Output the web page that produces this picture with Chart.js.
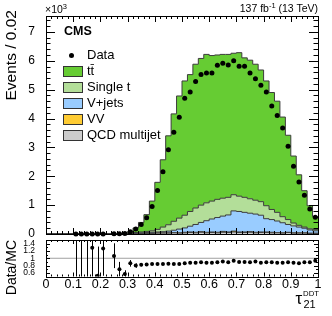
<!DOCTYPE html>
<html>
<head>
<meta charset="utf-8">
<script src="https://cdn.jsdelivr.net/npm/chart.js@4.4.0/dist/chart.umd.min.js"></script>
<style>
  body { margin: 0; background: #fff; }
  #wrap { position: relative; width: 332px; height: 316px; overflow: hidden; font-family: "Liberation Sans", Arial, sans-serif; color: #000; }
  canvas { position: absolute; left: 0; }
  #main { top: 0; }
  #ratio { top: 230px; }
  .lbl { position: absolute; white-space: nowrap; line-height: 1; }
  .leg { position: absolute; left: 87px; font-size: 13px; line-height: 1; white-space: nowrap; }
  .box { position: absolute; left: 63px; width: 20px; height: 11px; box-sizing: border-box; border: 1px solid #333; }
  .rot { position: absolute; width: 200px; height: 18px; line-height: 18px; text-align: right; transform: rotate(-90deg); white-space: nowrap; }
</style>
</head>
<body>
<div id="wrap">
  <canvas id="main" width="332" height="250"></canvas>
  <canvas id="ratio" width="332" height="86"></canvas>

  <div class="rot" style="left:-89px; top:101px; font-size:15.5px;">Events / 0.02</div>
  <div class="rot" style="left:-89px; top:331px; font-size:14px;">Data/MC</div>

  <div class="lbl" style="left:45px; top:4.3px; font-size:10.5px;">×10<span style="position:relative; top:-4px; font-size:7.5px;">3</span></div>
  <div class="lbl" style="right:14px; top:2.9px; font-size:10.5px;">137 fb<span style="position:relative; top:-3.5px; font-size:7.5px;">-1</span> (13 TeV)</div>
  <div class="lbl" style="left:64px; top:25.4px; font-size:12.5px; font-weight:bold;">CMS</div>

  <div style="position:absolute; left:69.2px; top:52.5px; width:5px; height:5px; border-radius:50%; background:#000;"></div>
  <div class="leg" style="top:48px;">Data</div>
  <div class="box" style="top:65.5px; background:#66cc33;"></div>
  <div class="leg" style="top:64px;">tt̄</div>
  <div class="box" style="top:81.6px; background:#b3de99;"></div>
  <div class="leg" style="top:80.1px;">Single t</div>
  <div class="box" style="top:97.7px; background:#99ccff;"></div>
  <div class="leg" style="top:96.2px;">V+jets</div>
  <div class="box" style="top:113.7px; background:#ffcc33;"></div>
  <div class="leg" style="top:112.2px;">VV</div>
  <div class="box" style="top:129.8px; background:#cccccc;"></div>
  <div class="leg" style="top:128.3px;">QCD multijet</div>

  <div class="lbl" style="left:295.5px; top:289.6px; font-size:17px;">τ</div>
  <div class="lbl" style="left:303px; top:290px; font-size:7.8px;">DDT</div>
  <div class="lbl" style="left:303.5px; top:299px; font-size:11px;">21</div>
</div>

<script>
// bin edges of tau21 DDT (0.02 wide bins)
const binEdges = [0, 0.02, 0.04, 0.06, 0.08, 0.1, 0.12, 0.14, 0.16, 0.18,
  0.2, 0.22, 0.24, 0.26, 0.28, 0.3, 0.32, 0.34, 0.36, 0.38,
  0.4, 0.42, 0.44, 0.46, 0.48, 0.5, 0.52, 0.54, 0.56, 0.58,
  0.6, 0.62, 0.64, 0.66, 0.68, 0.7, 0.72, 0.74, 0.76, 0.78,
  0.8, 0.82, 0.84, 0.86, 0.88, 0.9, 0.92, 0.94, 0.96, 0.98, 1.0];

// events per bin, in units of 10^3
const qcd = [0, 0, 0, 0, 0, 0, 0, 0, 0, 0, 0, 0, 0, 0.002, 0.003,
  0.01, 0.01, 0.02, 0.02, 0.02, 0.03, 0.03, 0.03, 0.04, 0.03,
  0.04, 0.05, 0.04, 0.06, 0.04, 0.05, 0.04, 0.06, 0.05, 0.07,
  0.05, 0.05, 0.06, 0.04, 0.05, 0.05, 0.04, 0.04, 0.03, 0.05,
  0.03, 0.03, 0.03, 0.02, 0.02];
const vv = [0, 0, 0, 0, 0, 0, 0, 0, 0, 0, 0, 0, 0, 0, 0,
  0.005, 0.005, 0.005, 0.01, 0.01, 0.01, 0.01, 0.01, 0.01, 0.01,
  0.02, 0.02, 0.02, 0.02, 0.02, 0.02, 0.02, 0.03, 0.02, 0.03,
  0.02, 0.02, 0.02, 0.02, 0.02, 0.02, 0.02, 0.01, 0.01, 0.01,
  0.01, 0.01, 0.01, 0.01, 0.01];
const vjets = [0, 0, 0, 0, 0, 0, 0, 0, 0, 0, 0, 0, 0, 0, 0.002,
  0.005, 0.015, 0.015, 0.02, 0.03, 0.03, 0.04, 0.06, 0.08, 0.13,
  0.15, 0.2, 0.27, 0.32, 0.4, 0.45, 0.51, 0.53, 0.59, 0.7,
  0.71, 0.68, 0.64, 0.63, 0.58, 0.46, 0.44, 0.4, 0.35, 0.27,
  0.24, 0.2, 0.16, 0.11, 0.08];
const singleTop = [0, 0, 0, 0, 0, 0, 0, 0, 0, 0, 0, 0, 0, 0, 0.005,
  0.01, 0.02, 0.03, 0.04, 0.05, 0.09, 0.16, 0.22, 0.31, 0.38,
  0.44, 0.51, 0.57, 0.6, 0.62, 0.62, 0.63, 0.62, 0.61, 0.56,
  0.53, 0.52, 0.5, 0.48, 0.47, 0.45, 0.35, 0.3, 0.21, 0.17,
  0.1, 0.06, 0.04, 0.04, 0.04];
const ttbar = [0, 0, 0, 0, 0, 0.001, 0.001, 0.001, 0.003, 0.006, 0.003, 0.003, 0.006, 0.012, 0.03,
  0.06, 0.16, 0.33, 0.58, 1.03, 1.63, 2.33, 3.08, 3.72, 4.23,
  4.65, 4.74, 4.98, 5.08, 5.14, 5.04, 5.0, 4.98, 4.95, 4.9,
  4.97, 4.83, 4.8, 4.71, 4.56, 4.32, 4.05, 3.85, 3.45, 2.92,
  2.32, 1.75, 1.26, 0.8, 0.45];
const dataObs = [null, null, null, null, null, 0.004, 0.003, 0.003, 0.004, 0.003, 0.004, null, 0.006, 0.009, 0.02,
  0.08, 0.17, 0.33, 0.56, 0.95, 1.51, 2.16, 2.92, 3.52, 4.04,
  4.7, 4.92, 5.28, 5.52, 5.58, 5.58, 5.84, 5.91, 5.85, 6.0,
  5.81, 5.81, 5.58, 5.38, 5.15, 4.92, 4.43, 4.1, 3.67, 3.04,
  2.35, 1.8, 1.34, 0.87, 0.58];

// data / MC ratio and its errors
const ratio = [null, null, null, null, null, 2.5, 2.5, 2.5, 1.29, 0.52, 1.27, null, 1.06, 0.7, 0.57,
  0.86, 0.8, 0.82, 0.83, 0.84, 0.84, 0.84, 0.85, 0.84, 0.84,
  0.86, 0.88, 0.88, 0.89, 0.88, 0.88, 0.89, 0.91, 0.89, 0.93,
  0.9, 0.9, 0.89, 0.91, 0.88, 0.89, 0.89, 0.88, 0.88, 0.89,
  0.88, 0.86, 0.89, 0.89, 0.93];
const ratioErrUp = [0, 0, 0, 0, 0, 1, 1, 1, 0.8, 0.8, 0.75, 0, 0.35, 0.2, 0.1,
  0.09, 0.06, 0.04, 0.03, 0.02, 0.01, 0.01, 0.01, 0.01, 0.01,
  0.01, 0.01, 0.01, 0.01, 0.01, 0.01, 0.01, 0.01, 0.01, 0.01,
  0.01, 0.01, 0.01, 0.01, 0.01, 0.01, 0.01, 0.01, 0.01, 0.01,
  0.01, 0.01, 0.01, 0.01, 0.01];
const ratioErrDown = [0, 0, 0, 0, 0, 2.5, 2.5, 2.5, 0.8, 0.6, 0.75, 0, 0.33, 0.2, 0.1,
  0.09, 0.06, 0.04, 0.03, 0.02, 0.01, 0.01, 0.01, 0.01, 0.01,
  0.01, 0.01, 0.01, 0.01, 0.01, 0.01, 0.01, 0.01, 0.01, 0.01,
  0.01, 0.01, 0.01, 0.01, 0.01, 0.01, 0.01, 0.01, 0.01, 0.01,
  0.01, 0.01, 0.01, 0.01, 0.01];

// tick labels
const xTickValues = [0, 0.1, 0.2, 0.3, 0.4, 0.5, 0.6, 0.7, 0.8, 0.9, 1];
const mainYTickValues = [0, 1, 2, 3, 4, 5, 6, 7];
const ratioYTickValues = [0.6, 0.8, 1, 1.2, 1.4];

Chart.defaults.font.family = '"Liberation Sans", Arial, sans-serif';
Chart.defaults.color = '#000';

const binCenters = binEdges.slice(0, -1).map((e, i) => (e + binEdges[i + 1]) / 2);

// histogram as a stepped line: one point per left edge, plus the right edge
function stepPoints(values) {
    return binEdges.map((e, i) => ({ x: e, y: values[Math.min(i, values.length - 1)] }));
}

function stackSet(label, values, color, fill) {
    return {
        label: label,
        data: stepPoints(values),
        stepped: true,
        fill: fill,
        backgroundColor: color,
        borderColor: '#3c3c3c',
        borderWidth: 1,
        pointRadius: 0
    };
}

function isMajor(v, step) {
    const q = v / step;
    return Math.abs(q - Math.round(q)) < 1e-6;
}

// ROOT-like frame with ticks pointing inwards
const insideTicks = {
    id: 'insideTicks',
    afterDatasetsDraw(chart, args, o) {
        const { ctx, chartArea: a, scales } = chart;
        const x = scales.x, y = scales.y;
        ctx.save();
        ctx.strokeStyle = '#000';
        ctx.lineWidth = 1;
        ctx.beginPath();
        const nx = Math.round((x.max - x.min) / o.xMinor);
        for (let k = 0; k <= nx; k++) {
            const v = x.min + k * o.xMinor;
            const px = Math.round(x.getPixelForValue(v)) + 0.5;
            const len = isMajor(v, o.xMajor) ? o.xMajLen : o.xMinLen;
            ctx.moveTo(px, a.bottom);
            ctx.lineTo(px, a.bottom - len);
            ctx.moveTo(px, a.top);
            ctx.lineTo(px, a.top + len);
        }
        const ny = Math.floor((y.max - y.min) / o.yMinor + 1e-6);
        for (let k = 0; k <= ny; k++) {
            const v = y.min + k * o.yMinor;
            const py = Math.round(y.getPixelForValue(v)) + 0.5;
            const len = isMajor(v, o.yMajor) ? o.yMajLen : o.yMinLen;
            ctx.moveTo(a.left, py);
            ctx.lineTo(a.left + len, py);
            ctx.moveTo(a.right, py);
            ctx.lineTo(a.right - len, py);
        }
        ctx.stroke();
        ctx.strokeRect(Math.round(a.left) + 0.5, Math.round(a.top) + 0.5,
            Math.round(a.right - a.left), Math.round(a.bottom - a.top));
        ctx.restore();
    }
};

// vertical error bars on the ratio points
const errorBars = {
    id: 'errorBars',
    afterDatasetsDraw(chart) {
        const { ctx, chartArea: a, scales: { x, y } } = chart;
        ctx.save();
        ctx.beginPath();
        ctx.rect(a.left, a.top, a.right - a.left, a.bottom - a.top);
        ctx.clip();
        ctx.strokeStyle = '#000';
        ctx.lineWidth = 1;
        ctx.beginPath();
        ratio.forEach((r, i) => {
            if (r === null) return;
            const px = Math.round(x.getPixelForValue(binCenters[i])) + 0.5;
            ctx.moveTo(px, y.getPixelForValue(r + ratioErrUp[i]));
            ctx.lineTo(px, y.getPixelForValue(r - ratioErrDown[i]));
        });
        ctx.stroke();
        ctx.restore();
    }
};

const mainChart = new Chart(document.getElementById('main'), {
    type: 'line',
    data: {
        datasets: [
            stackSet('QCD multijet', qcd, '#cccccc', 'origin'),
            stackSet('VV', vv, '#ffcc33', '-1'),
            stackSet('V+jets', vjets, '#99ccff', '-1'),
            stackSet('Single t', singleTop, '#b3de99', '-1'),
            stackSet('tt', ttbar, '#66cc33', '-1'),
            {
                label: 'Data',
                data: dataObs.map((v, i) => ({ x: binCenters[i], y: v })),
                stack: 'obs',
                order: -1,
                showLine: false,
                pointRadius: 2.5,
                pointBorderWidth: 0,
                pointBackgroundColor: '#000',
                clip: false
            }
        ]
    },
    options: {
        responsive: false,
        animation: false,
        layout: { padding: { left: 0, right: 14, top: 16, bottom: 16 } },
        plugins: {
            legend: { display: false },
            tooltip: { enabled: false },
            insideTicks: { xMajor: 0.1, xMinor: 0.02, xMajLen: 6, xMinLen: 3, yMajor: 1, yMinor: 0.2, yMajLen: 9, yMinLen: 4.5 }
        },
        scales: {
            x: { type: 'linear', min: 0, max: 1, display: false },
            y: {
                min: 0,
                max: 7.55,
                stacked: true,
                afterBuildTicks(s) { s.ticks = mainYTickValues.map(v => ({ value: v })); },
                afterFit(s) { s.width = 46; },
                ticks: { autoSkip: false, padding: 3, font: { size: 12 }, callback: v => String(v) },
                grid: { display: false },
                border: { display: false }
            }
        }
    },
    plugins: [insideTicks]
});

const ratioChart = new Chart(document.getElementById('ratio'), {
    type: 'line',
    data: {
        datasets: [
            {
                data: [{ x: 0, y: 1 }, { x: 1, y: 1 }],
                borderColor: '#a0a0a0',
                borderWidth: 1,
                pointRadius: 0
            },
            {
                data: ratio.map((v, i) => ({ x: binCenters[i], y: v })),
                order: -1,
                showLine: false,
                pointRadius: 2,
                pointBorderWidth: 0,
                pointBackgroundColor: '#000',
                clip: 0
            }
        ]
    },
    options: {
        responsive: false,
        animation: false,
        layout: { padding: { left: 0, right: 14, top: 10, bottom: 0 } },
        plugins: {
            legend: { display: false },
            tooltip: { enabled: false },
            insideTicks: { xMajor: 0.1, xMinor: 0.02, xMajLen: 4, xMinLen: 2, yMajor: 0.2, yMinor: 0.1, yMajLen: 4, yMinLen: 2 }
        },
        scales: {
            x: {
                type: 'linear',
                min: 0,
                max: 1,
                afterBuildTicks(s) { s.ticks = xTickValues.map(v => ({ value: v })); },
                afterFit(s) { s.height = 39.5; },
                ticks: { autoSkip: false, maxRotation: 0, padding: -7, font: { size: 12.5 }, callback: v => String(v) },
                grid: { display: false },
                border: { display: false }
            },
            y: {
                min: 0.5,
                max: 1.5,
                afterBuildTicks(s) { s.ticks = ratioYTickValues.map(v => ({ value: v })); },
                afterFit(s) { s.width = 46; },
                ticks: { autoSkip: false, padding: 3, font: { size: 8.5 }, callback: v => String(v) },
                grid: { display: false },
                border: { display: false }
            }
        }
    },
    plugins: [errorBars, insideTicks]
});
</script>
</body>
</html>
